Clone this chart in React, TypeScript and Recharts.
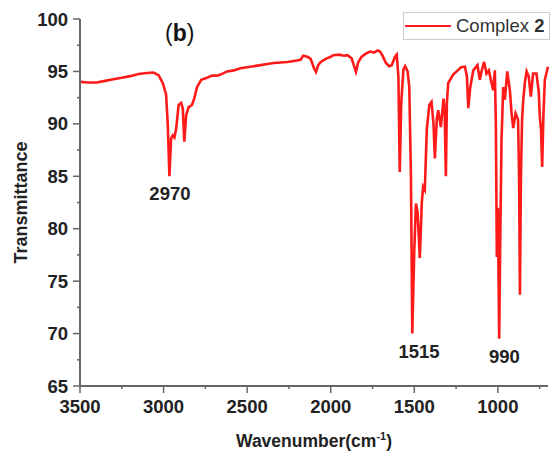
import React from 'react';
import { LineChart, Line, XAxis, YAxis, Legend, ReferenceDot } from 'recharts';

// FT-IR spectrum, wavenumber (cm-1) vs transmittance (%)
const wavenumbers = [
  3500, 3450, 3400, 3350, 3300, 3250, 3200, 3150, 3100, 3060, 3030, 3005, 2985, 2975, 2965,
  2955, 2945, 2935, 2925, 2910, 2895, 2885, 2876, 2865, 2850, 2830, 2815, 2800, 2775, 2740,
  2710, 2680, 2660, 2620, 2580, 2540, 2500, 2460, 2420, 2380, 2340, 2300, 2260, 2220, 2180,
  2165, 2140, 2120, 2100, 2088, 2075, 2060, 2030, 2000, 1985, 1950, 1920, 1900, 1875, 1860,
  1849, 1835, 1815, 1790, 1766, 1740, 1720, 1705, 1690, 1670, 1650, 1635, 1615, 1605, 1595,
  1587, 1578, 1565, 1555, 1540, 1530, 1520, 1512, 1500, 1490, 1480, 1467, 1455, 1447, 1437,
  1425, 1410, 1397, 1385, 1377, 1365, 1357, 1341, 1325, 1318, 1311, 1305, 1297, 1267, 1240,
  1220, 1197, 1185, 1177, 1165, 1147, 1122, 1108, 1095, 1082, 1068, 1054, 1042, 1028, 1018,
  1012, 1006, 1000, 992, 985, 978, 968, 958, 944, 935, 928, 918, 908, 894, 879,
  873, 868, 862, 855, 848, 838, 828, 815, 803, 789, 769, 755, 749, 742, 735,
  728, 719, 700,
];
const transmittance = [
  94.0, 93.95, 93.95, 94.1, 94.25, 94.4, 94.55, 94.75, 94.85, 94.9, 94.65, 93.9, 92.8, 90.0, 85.0,
  88.6, 88.9, 88.7, 89.5, 91.8, 92.0, 91.5, 88.3, 90.8, 91.6, 91.8, 92.5, 93.5, 94.2, 94.4,
  94.6, 94.6, 94.7, 95.0, 95.1, 95.3, 95.4, 95.5, 95.6, 95.7, 95.8, 95.85, 95.9, 96.0, 96.1,
  96.5, 96.4, 96.2, 95.3, 94.95, 95.6, 95.9, 96.2, 96.4, 96.55, 96.6, 96.5, 96.55, 96.25, 95.5,
  94.95, 95.9, 96.4, 96.7, 96.9, 96.8, 97.0, 96.9, 96.5, 95.8, 95.5, 95.6, 96.4, 96.6, 94.5,
  85.4, 92.0, 95.2, 95.5, 95.0, 93.5, 85.0, 70.0, 78.0, 82.4, 81.5, 77.2, 82.5, 84.0, 83.7,
  89.5, 91.8, 92.1, 90.0, 86.7, 90.5, 91.3, 89.7, 92.4, 91.0, 85.0, 92.0, 93.9, 94.7, 95.1,
  95.4, 95.45, 94.5, 91.5, 93.5, 95.1, 95.6, 94.2, 95.2, 95.9, 94.8, 95.1, 94.2, 93.2, 95.1,
  90.0, 77.3, 82.0, 69.5, 80.0, 88.5, 93.5, 92.3, 95.0, 94.0, 93.2, 91.0, 89.6, 91.0, 90.4,
  85.0, 73.7, 85.0, 90.5, 92.3, 94.0, 95.0, 94.5, 92.6, 94.8, 94.8, 93.0, 90.7, 89.5, 85.9,
  90.5, 94.2, 95.45,
];

const xTicks = [3500, 3250, 3000, 2750, 2500, 2250, 2000, 1750, 1500, 1250, 1000, 750];
const yTicks = [65, 67.5, 70, 72.5, 75, 77.5, 80, 82.5, 85, 87.5, 90, 92.5, 95, 97.5, 100];

// peak annotations (label centre in data units)
const peakText = ['2970', '1515', '990'];
const peakLabelW = [2962, 1472, 961];
const peakLabelT = [83.4, 68.3, 67.8];

const data = wavenumbers.map((w, i) => ({ w, t: transmittance[i] }));

const FONT = '"Liberation Sans", Arial, sans-serif';
const AXIS = '#666';
const TEXT = '#222';

function XTick({ x, y, payload }: any) {
  const major = payload.value % 500 === 0;
  return (
    <g>
      <line x1={x} x2={x} y1={y} y2={y + (major ? 7 : 3)} stroke={AXIS} strokeWidth={1.5} />
      {major && (
        <text x={x} y={y + 27} textAnchor="middle" fontSize={18.5} fontWeight="bold" fontFamily={FONT} fill={TEXT}>
          {payload.value}
        </text>
      )}
    </g>
  );
}

function YTick({ x, y, payload }: any) {
  const major = payload.value % 5 === 0;
  return (
    <g>
      <line x1={x} x2={x - (major ? 7 : 3)} y1={y} y2={y} stroke={AXIS} strokeWidth={1.5} />
      {major && (
        <text x={x - 12} y={y + 6.5} textAnchor="end" fontSize={18.5} fontWeight="bold" fontFamily={FONT} fill={TEXT}>
          {payload.value}
        </text>
      )}
    </g>
  );
}

function LegendBox() {
  return (
    <div style={{ width: 147, height: 28, border: '1px solid #ccc', background: '#fff', display: 'flex', alignItems: 'center', boxSizing: 'border-box' }}>
      <svg width={50} height={6}>
        <line x1={1} x2={47} y1={3} y2={3} stroke="#ff1a1a" strokeWidth={2} />
      </svg>
      <span style={{ fontFamily: FONT, fontSize: 18.5, color: '#333', whiteSpace: 'nowrap', marginLeft: 2 }}>
        Complex <b>2</b>
      </span>
    </div>
  );
}

export default function App() {
  return (
    <div style={{ position: 'absolute', left: 0, top: 0, width: 552, height: 454, background: '#fff' }}>
      <LineChart width={552} height={454} data={data} margin={{ top: 19, right: 4, left: 20, bottom: 38 }}>
        <XAxis
          type="number"
          dataKey="w"
          domain={[700, 3500]}
          reversed
          ticks={xTicks}
          interval={0}
          height={30}
          tickSize={0}
          tickMargin={0}
          tick={<XTick />}
          axisLine={{ stroke: AXIS, strokeWidth: 2 }}
          label={{
            content: ({ viewBox }: any) => (
              <text x={viewBox.x + viewBox.width / 2} y={viewBox.y + 61} textAnchor="middle" fontSize={17.5} fontWeight="bold" fontFamily={FONT} fill={TEXT}>
                Wavenumber(cm<tspan dy={-7} fontSize={11}>-1</tspan><tspan dy={7}>)</tspan>
              </text>
            ),
          }}
        />
        <YAxis
          type="number"
          domain={[65, 100]}
          ticks={yTicks}
          interval={0}
          width={60}
          tickSize={0}
          tickMargin={0}
          tick={<YTick />}
          axisLine={{ stroke: AXIS, strokeWidth: 2 }}
          label={{
            content: ({ viewBox }: any) => {
              const cx = viewBox.x + 1;
              const cy = viewBox.y + viewBox.height / 2;
              return (
                <text x={cx} y={cy} transform={`rotate(-90 ${cx} ${cy})`} textAnchor="middle" dominantBaseline="central" fontSize={18} fontWeight="bold" fontFamily={FONT} fill={TEXT}>
                  Transmittance
                </text>
              );
            },
          }}
        />
        <Legend
          layout="horizontal"
          verticalAlign="middle"
          align="center"
          wrapperStyle={{ top: 12, left: 403, width: 147, height: 28 }}
          content={() => <LegendBox />}
        />
        <Line type="linear" dataKey="t" name="Complex 2" stroke="#ff1a1a" strokeWidth={2.6} dot={false} isAnimationActive={false} />
        {peakText.map((txt, i) => (
          <ReferenceDot
            key={txt}
            x={peakLabelW[i]}
            y={peakLabelT[i]}
            r={0}
            fill="none"
            stroke="none"
            label={{
              content: ({ viewBox }: any) => (
                <text x={viewBox.x + viewBox.width / 2} y={viewBox.y + viewBox.height / 2} textAnchor="middle" dominantBaseline="central" fontSize={18.5} fontWeight="bold" fontFamily={FONT} fill={TEXT}>
                  {txt}
                </text>
              ),
            }}
          />
        ))}
      </LineChart>
      <div style={{ position: 'absolute', left: 165, top: 20, fontFamily: FONT, fontSize: 23, color: '#111', lineHeight: '26px' }}>
        (<b>b</b>)
      </div>
    </div>
  );
}
